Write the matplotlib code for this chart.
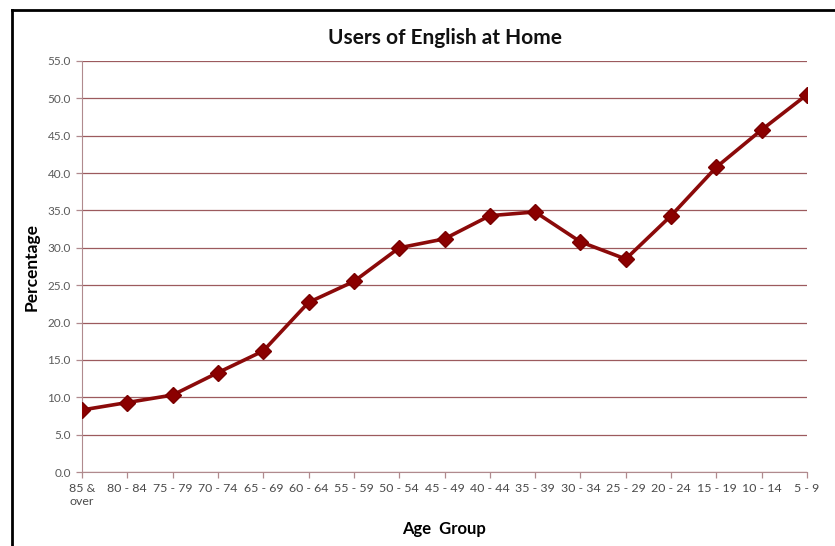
import numpy as np
import matplotlib.pyplot as plt
from matplotlib.lines import Line2D

# Daten
age_groups = ['85 &\nover', '80 - 84', '75 - 79', '70 - 74', '65 - 69', '60 - 64',
              '55 - 59', '50 - 54', '45 - 49', '40 - 44', '35 - 39', '30 - 34',
              '25 - 29', '20 - 24', '15 - 19', '10 - 14', '5 - 9']
percentage = [8.3, 9.3, 10.3, 13.3, 16.2, 22.7, 25.5, 30.0, 31.2, 34.3, 34.8,
              30.8, 28.5, 34.3, 40.8, 45.8, 50.5]
y_ticks = np.arange(0, 55.1, 5)

plt.rcParams['font.family'] = ['Lato', 'DejaVu Sans']

fig = plt.figure(figsize=(8.35, 5.46), dpi=100)
ax = fig.add_axes([0.0982, 0.1355, 0.8683, 0.7528])

line_col = '#8B0A0A'
grid_col = '#9C5A5E'
axis_col = '#B08A8E'

x = np.arange(len(age_groups))
ax.plot(x, percentage, color=line_col, lw=2.6, marker='D', markersize=8.5,
        markerfacecolor='#8B0000', markeredgecolor='#7A0000', zorder=3)

ax.set_xlim(0, len(age_groups) - 1)
ax.set_ylim(0, 55)
ax.set_yticks(y_ticks)
ax.set_yticklabels([f'{v:.1f}' for v in y_ticks])
ax.set_xticks(x)
ax.set_xticklabels(age_groups, fontsize=8.9)
for lbl in ax.get_yticklabels():
    lbl.set_fontsize(8.5)

ax.yaxis.grid(True, color=grid_col, lw=0.9)
ax.set_axisbelow(True)
for side in ['top', 'right']:
    ax.spines[side].set_visible(False)
ax.spines['left'].set_color(axis_col)
ax.spines['bottom'].set_color(axis_col)
ax.tick_params(axis='both', colors=axis_col, length=4, width=0.9,
               labelcolor='#4a4a4a', pad=4)
ax.tick_params(axis='y', labelcolor='#5a5a5a')

ax.set_title('Users of English at Home', fontsize=15, fontweight='bold',
             pad=12, color='#111111')
ax.set_ylabel('Percentage', fontsize=12.5, fontweight='bold', labelpad=6)
ax.set_xlabel('Age  Group', fontsize=12, fontweight='bold', labelpad=10)

# schwarzer Rahmen oben und links
fig.add_artist(Line2D([0.0144, 1.0], [0.9817, 0.9817], color='black', lw=2,
                      transform=fig.transFigure))
fig.add_artist(Line2D([0.0144, 0.0144], [0.0, 0.9817], color='black', lw=2,
                      transform=fig.transFigure))

fig.savefig('out.png', dpi=100)
